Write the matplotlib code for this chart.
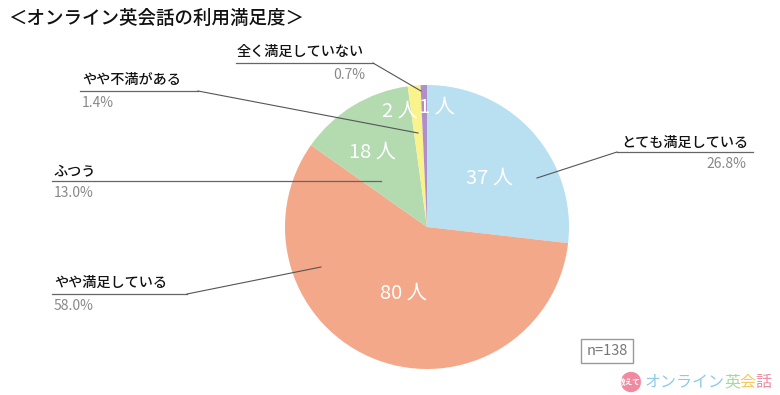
import matplotlib.pyplot as plt
from matplotlib.patches import Circle

plt.rcParams['font.family'] = ['Noto Sans CJK JP', 'DejaVu Sans']

title = '＜オンライン英会話の利用満足度＞'
categories = ['とても満足している', 'やや満足している', 'ふつう', 'やや不満がある', '全く満足していない']
counts = [37, 80, 18, 2, 1]
percents = ['26.8%', '58.0%', '13.0%', '1.4%', '0.7%']
colors = ['#b8e0f1', '#f3a88a', '#b4dab0', '#faf28a', '#b08fc8']
n_total = 138

fig = plt.figure(figsize=(7.8, 3.95), dpi=100)
ax = fig.add_axes([0, 0, 1, 1])

# y axis runs downward (pixel style), so counterclockwise in data = clockwise on screen
ax.pie(counts, colors=colors, startangle=-90, counterclock=True,
       center=(427, 227), radius=142, wedgeprops=dict(linewidth=0))
ax.set_xlim(0, 780)
ax.set_ylim(395, 0)
ax.set_aspect('equal')
ax.axis('off')

ax.text(8, 18, title, fontsize=13.3, va='center', ha='left', color='#111', fontweight='medium')

# count labels inside the slices
inner_pos = [(490, 178), (403, 293), (372, 152), (400, 111), (437, 107)]
for (x, y), c in zip(inner_pos, counts):
    ax.text(x, y, f'{c} 人', color='white', fontsize=14.5, ha='center', va='center')

# callouts: text position, underline span, leader end
callouts = [
    dict(tx=621, ty=143, ul=(617, 753), uy=152, end=(537, 178), pct_x=746, pct_ha='right', lead_from=617),
    dict(tx=54, ty=283, ul=(52, 187), uy=294, end=(321, 267), pct_x=54, pct_ha='left', lead_from=187),
    dict(tx=54, ty=171, ul=(52, 381), uy=181, end=None, pct_x=54, pct_ha='left', lead_from=381),
    dict(tx=82, ty=80, ul=(80, 198), uy=91, end=(418, 133), pct_x=82, pct_ha='left', lead_from=198),
    dict(tx=237, ty=52, ul=(236, 373), uy=63, end=(421, 91), pct_x=365, pct_ha='right', lead_from=373),
]
for cat, pct, co in zip(categories, percents, callouts):
    ax.text(co['tx'], co['ty'], cat, fontsize=10.2, ha='left', va='center', color='#111',
            fontweight='medium')
    ax.text(co['pct_x'], co['uy'] + 12, pct, fontsize=10, ha=co['pct_ha'], va='center', color='#888')
    ax.plot(co['ul'], [co['uy'], co['uy']], color='#666', lw=0.9)
    if co['end'] is not None:
        ax.plot([co['lead_from'], co['end'][0]], [co['uy'], co['end'][1]], color='#555', lw=0.8)

ax.text(607, 351, f'n={n_total}', fontsize=10.5, ha='center', va='center', color='#777',
        bbox=dict(boxstyle='square,pad=0.35', facecolor='white', edgecolor='#999', lw=1))

# logo
ax.add_patch(Circle((631, 382), 9.5, color='#f08aa0'))
ax.text(631, 382, '教えて!', fontsize=5.5, color='white', ha='center', va='center', fontweight='bold')
logo_parts = [('オンライン', '#8ecae6'), ('英', '#a8d8a0'), ('会', '#f5c860'), ('話', '#f08aa0')]
lx = 645
for txt, col in logo_parts:
    ax.text(lx, 382, txt, fontsize=11.5, color=col, ha='left', va='center')
    lx += 15.8 * len(txt)

fig.savefig('out.png', dpi=100)
